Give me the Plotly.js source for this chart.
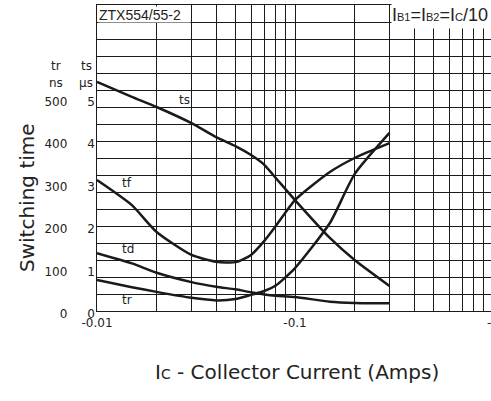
<!DOCTYPE html>
<html>
<head>
<meta charset="utf-8">
<script src="https://cdn.plot.ly/plotly-3.0.1.min.js"></script>
<style>
  html, body { margin: 0; padding: 0; background: #fff; overflow: hidden; }
  #chart { width: 500px; height: 401px; }
</style>
</head>
<body>
<div id="chart"></div>
<script>
// Collector current magnitude (A), plotted as -Ic on a log axis
const current = [0.01, 0.015, 0.02, 0.03, 0.04, 0.05, 0.06, 0.07, 0.08, 0.1, 0.15, 0.2, 0.3];
// Switching times
const ts_us = [5.39, 5.04, 4.80, 4.42, 4.09, 3.88, 3.67, 3.44, 3.13, 2.61, 1.72, 1.20, 0.59];
const tf_ns = [308, 249, 186, 132, 116, 115, 132, 165, 200, 261, 327, 360, 395];
const td_ns = [136, 112, 90, 68, 57, 51, 44, 39, 36, 33, 22, 19, 18];
const tr_ns = [73, 56, 45, 31, 25, 28, 38, 47, 60, 101, 207, 322, 419];

// Axis tick labels
const nsTicks = [0, 100, 200, 300, 400, 500];
const usTicks = [0, 1, 2, 3, 4, 5];
const xGrid = [0.01,0.02,0.03,0.04,0.05,0.06,0.07,0.08,0.09,0.1,0.2,0.3,0.4,0.5,0.6,0.7,0.8,0.9,1];
const xLabels = {0.01: '-0.01', 0.1: '-0.1', 1: '-1'};

const ink = '#1a1a1a';
const font = 'DejaVu Sans, Arial, sans-serif';
const lineStyle = {color: ink, width: 2.5, shape: 'spline', smoothing: 0.6};

const traces = [
  {x: current, y: ts_us, yaxis: 'y2', name: 'ts', mode: 'lines', line: lineStyle},
  {x: current, y: tf_ns, name: 'tf', mode: 'lines', line: lineStyle},
  {x: current, y: td_ns, name: 'td', mode: 'lines', line: lineStyle},
  {x: current, y: tr_ns, yaxis: 'y3', name: 'tr', mode: 'lines', line: lineStyle}
];

// plot area in pixels: left 97, right 493, top 5, bottom 311
const L = 97, W = 396, T = 5, H = 306;
const px = x => (x - L) / W;
const py = y => (T + H - y) / H;
const txt = (text, x, y, size) => ({text, xref: 'paper', yref: 'paper', x: px(x), y: py(y),
  xanchor: 'center', yanchor: 'middle', showarrow: false, font: {family: font, size: size, color: '#222'}});
const curveLabel = (text, I, v) => ({text, xref: 'x', yref: 'y', x: Math.log10(I), y: v,
  xanchor: 'center', yanchor: 'middle', showarrow: false, font: {family: font, size: 12, color: '#222'}});

const annotations = [
  Object.assign(txt('Switching time', 27, 198, 20), {textangle: -90}),
  txt('I<span style="font-size:14px">C</span> - Collector Current (Amps)', 297, 372, 20),
  txt('tr', 56, 66, 12),
  txt('ns', 56, 83, 12),
  txt('ts', 86, 66, 12),
  txt('µs', 86, 83, 12),
  curveLabel('ts', 0.0278, 496),
  curveLabel('tf', 0.0141, 301),
  curveLabel('td', 0.0143, 146),
  curveLabel('tr', 0.0142, 26),
  {text: 'ZTX554/55-2', xref: 'paper', yref: 'paper', x: px(98), y: py(6), xanchor: 'left', yanchor: 'top',
   width: 91, height: 15, bgcolor: '#fff', borderpad: 0, align: 'left', showarrow: false,
   font: {family: 'Liberation Sans, Arial, sans-serif', size: 14, color: '#222'}},
  {text: 'I<span style="font-size:11px">B1</span>=I<span style="font-size:11px">B2</span>=I<span style="font-size:11px">C</span>/10',
   xref: 'paper', yref: 'paper', x: px(390.5), y: py(0), xanchor: 'left', yanchor: 'top',
   width: 110, height: 27, bgcolor: '#fff', borderpad: 0, align: 'left', showarrow: false,
   font: {family: 'Liberation Sans, Arial, sans-serif', size: 18, color: '#222'}}
];

const layout = {
  width: 500, height: 401,
  margin: {l: L, r: 500 - L - W, t: T, b: 401 - T - H},
  paper_bgcolor: '#fff', plot_bgcolor: '#fff',
  showlegend: false,
  font: {family: font, size: 12, color: '#222'},
  xaxis: {
    type: 'log', range: [-2, 0],
    tickvals: xGrid, ticktext: xGrid.map(v => xLabels[v] || ''),
    ticks: '', showgrid: true, gridcolor: ink, gridwidth: 1,
    showline: true, linecolor: ink, linewidth: 1.2, mirror: true,
    tickfont: {family: font, size: 12, color: '#222'}, fixedrange: true
  },
  yaxis: {
    range: [0, 720], tickvals: nsTicks, ticktext: nsTicks.map(String),
    ticks: '', showgrid: false, zeroline: false,
    showline: true, linecolor: ink, linewidth: 1.2,
    ticklabelstandoff: 26, ticklabelshift: 3,
    tickfont: {family: font, size: 12, color: '#222'}
  },
  yaxis2: {
    overlaying: 'y', side: 'left', range: [0, 7.2],
    tickvals: usTicks, ticktext: usTicks.map(String),
    ticks: '', showgrid: false, zeroline: false, showline: false,
    ticklabelstandoff: 1, ticklabelshift: 3,
    tickfont: {family: font, size: 12, color: '#222'}
  },
  yaxis3: {
    overlaying: 'y', side: 'left', range: [0, 720], dtick: 40,
    showgrid: true, gridcolor: ink, gridwidth: 1, zeroline: false,
    showticklabels: false, ticks: '', showline: false
  },
  annotations: annotations
};

Plotly.newPlot('chart', traces, layout, {staticPlot: true, displayModeBar: false});
</script>
</body>
</html>
